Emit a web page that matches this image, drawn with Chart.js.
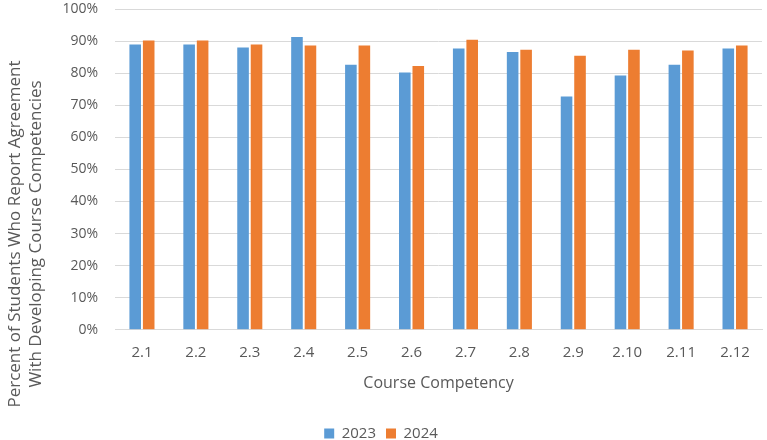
<!DOCTYPE html>
<html>
<head>
<meta charset="utf-8">
<script src="https://cdn.jsdelivr.net/npm/chart.js@4.4.1/dist/chart.umd.min.js"></script>
<style>
  html, body { margin: 0; padding: 0; background: #fff; }
  #wrap { width: 767px; height: 440px; }
</style>
</head>
<body>
<div id="wrap"><canvas id="barChart"></canvas></div>
<script>
// values (percent of students)
const competencies = ['2.1', '2.2', '2.3', '2.4', '2.5', '2.6', '2.7', '2.8', '2.9', '2.10', '2.11', '2.12'];
const values2023 = [88.9, 88.9, 88.0, 91.3, 82.6, 80.2, 87.7, 86.6, 72.7, 79.3, 82.6, 87.7];
const values2024 = [90.2, 90.2, 88.9, 88.6, 88.6, 82.2, 90.4, 87.3, 85.4, 87.3, 87.1, 88.6];
const yTicks = [0, 10, 20, 30, 40, 50, 60, 70, 80, 90, 100];
const yTitle = ['Percent of Students Who Report Agreement', 'With Developing Course Competencies'];

const textColor = '#595959';
const gridColor = '#D9D9D9';
const font = "'Open Sans', 'Liberation Sans', sans-serif";

// y axis title drawn by hand so it sits where the original has it
const yTitlePlugin = {
  id: 'yTitle',
  afterDraw(chart) {
    const ctx = chart.ctx;
    ctx.save();
    ctx.fillStyle = textColor;
    ctx.font = '17px ' + font;
    ctx.textAlign = 'center';
    ctx.textBaseline = 'middle';
    ctx.translate(0, 234);
    ctx.rotate(-Math.PI / 2);
    ctx.fillText(yTitle[0], 0, 15);
    ctx.fillText(yTitle[1], 0, 36);
    ctx.restore();
  }
};

const ctx = document.getElementById('barChart').getContext('2d');
const chart = new Chart(ctx, {
  type: 'bar',
  data: {
    labels: competencies,
    datasets: [{
      label: '2023',
      data: values2023,
      backgroundColor: '#5B9BD5',
      categoryPercentage: 0.5,
      barPercentage: 0.86
    }, {
      label: '2024',
      data: values2024,
      backgroundColor: '#ED7D31',
      categoryPercentage: 0.5,
      barPercentage: 0.86
    }]
  },
  options: {
    responsive: true,
    maintainAspectRatio: false,
    animation: false,
    layout: { padding: { left: 0, right: 5, top: 9, bottom: -11 } },
    plugins: {
      tooltip: { enabled: false },
      legend: {
        position: 'bottom',
        labels: {
          color: textColor,
          font: { family: font, size: 15 },
          boxWidth: 10,
          boxHeight: 10,
          padding: 10
        }
      }
    },
    scales: {
      x: {
        grid: { display: false },
        border: { display: true, color: gridColor },
        ticks: { color: textColor, font: { family: font, size: 15 }, padding: 6 },
        title: {
          display: true,
          text: 'Course Competency',
          color: textColor,
          font: { family: font, size: 16 },
          padding: { top: 6, bottom: 23 }
        }
      },
      y: {
        min: 0,
        max: 100,
        afterFit(scale) {
          scale.width = 115;
          scale.paddingTop = 0;
          scale.paddingBottom = 0;
        },
        afterBuildTicks(scale) { scale.ticks = yTicks.map(v => ({ value: v })); },
        grid: { color: gridColor, drawTicks: false },
        border: { display: false },
        ticks: {
          color: textColor,
          font: { family: font, size: 14 },
          padding: 17,
          callback: v => v + '%'
        }
      }
    }
  },
  plugins: [yTitlePlugin]
});
</script>
</body>
</html>
